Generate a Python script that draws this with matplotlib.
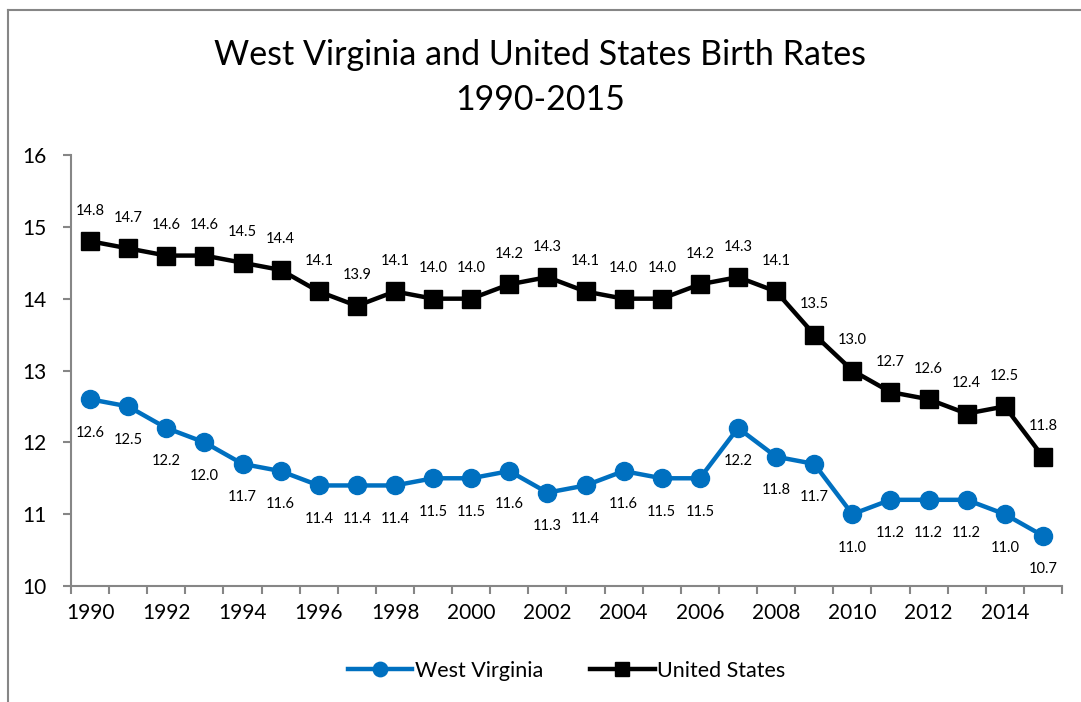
import numpy as np
import matplotlib.pyplot as plt
from matplotlib.lines import Line2D

plt.rcParams['font.family'] = ['Lato', 'DejaVu Sans']

years = list(range(1990, 2016))
wv = [12.6, 12.5, 12.2, 12.0, 11.7, 11.6, 11.4, 11.4, 11.4, 11.5, 11.5, 11.6, 11.3,
      11.4, 11.6, 11.5, 11.5, 12.2, 11.8, 11.7, 11.0, 11.2, 11.2, 11.2, 11.0, 10.7]
us = [14.8, 14.7, 14.6, 14.6, 14.5, 14.4, 14.1, 13.9, 14.1, 14.0, 14.0, 14.2, 14.3,
      14.1, 14.0, 14.0, 14.2, 14.3, 14.1, 13.5, 13.0, 12.7, 12.6, 12.4, 12.5, 11.8]

fig = plt.figure(figsize=(10.81, 7.02), dpi=100)
ax = fig.add_axes([0.0657, 0.1652, 0.9167, 0.614])

x = np.arange(len(years))
ax.plot(x, wv, color='#0070C0', lw=3.2, marker='o', ms=13, label='West Virginia')
ax.plot(x, us, color='black', lw=3.2, marker='s', ms=13, label='United States')

for xi, v in zip(x, wv):
    ax.annotate(f'{v:.1f}', (xi, v), xytext=(0, -24), textcoords='offset points',
                ha='center', va='center', fontsize=10.5)
for xi, v in zip(x, us):
    ax.annotate(f'{v:.1f}', (xi, v), xytext=(0, 22), textcoords='offset points',
                ha='center', va='center', fontsize=10.5)

ax.set_xlim(-0.5, len(years) - 0.5)
ax.set_ylim(10, 16)
ax.set_yticks(range(10, 17))
ax.set_xticks(np.arange(-0.5, len(years), 1))
ax.set_xticklabels([])
ax.set_xticks(x[::2], minor=True)
ax.set_xticklabels([str(y) for y in years[::2]], minor=True)
ax.tick_params(axis='x', which='major', length=6, color='#868686', width=1.5)
ax.tick_params(axis='x', which='minor', length=0, labelsize=15, pad=12)
ax.tick_params(axis='y', length=6, color='#868686', width=1.5, labelsize=15, pad=12)

for s in ['top', 'right']:
    ax.spines[s].set_visible(False)
for s in ['left', 'bottom']:
    ax.spines[s].set_color('#868686')
    ax.spines[s].set_linewidth(1.5)

fig.suptitle('West Virginia and United States Birth Rates\n1990-2015',
             y=0.945, fontsize=24.5, linespacing=1.5)

ax.legend(loc='center', bbox_to_anchor=(0.5, -0.197), ncol=2, frameon=False,
          fontsize=15.5, handlelength=3, columnspacing=2.2, handletextpad=0.1,
          markerscale=0.8)

# outer chart border (left and top edges visible in the crop)
fig.add_artist(Line2D([8/1081, 8/1081], [0, 1 - 10/702], transform=fig.transFigure,
                      color='#868686', lw=1.5))
fig.add_artist(Line2D([8/1081, 1], [1 - 10/702, 1 - 10/702], transform=fig.transFigure,
                      color='#868686', lw=1.5))

fig.savefig('out.png', dpi=100)
